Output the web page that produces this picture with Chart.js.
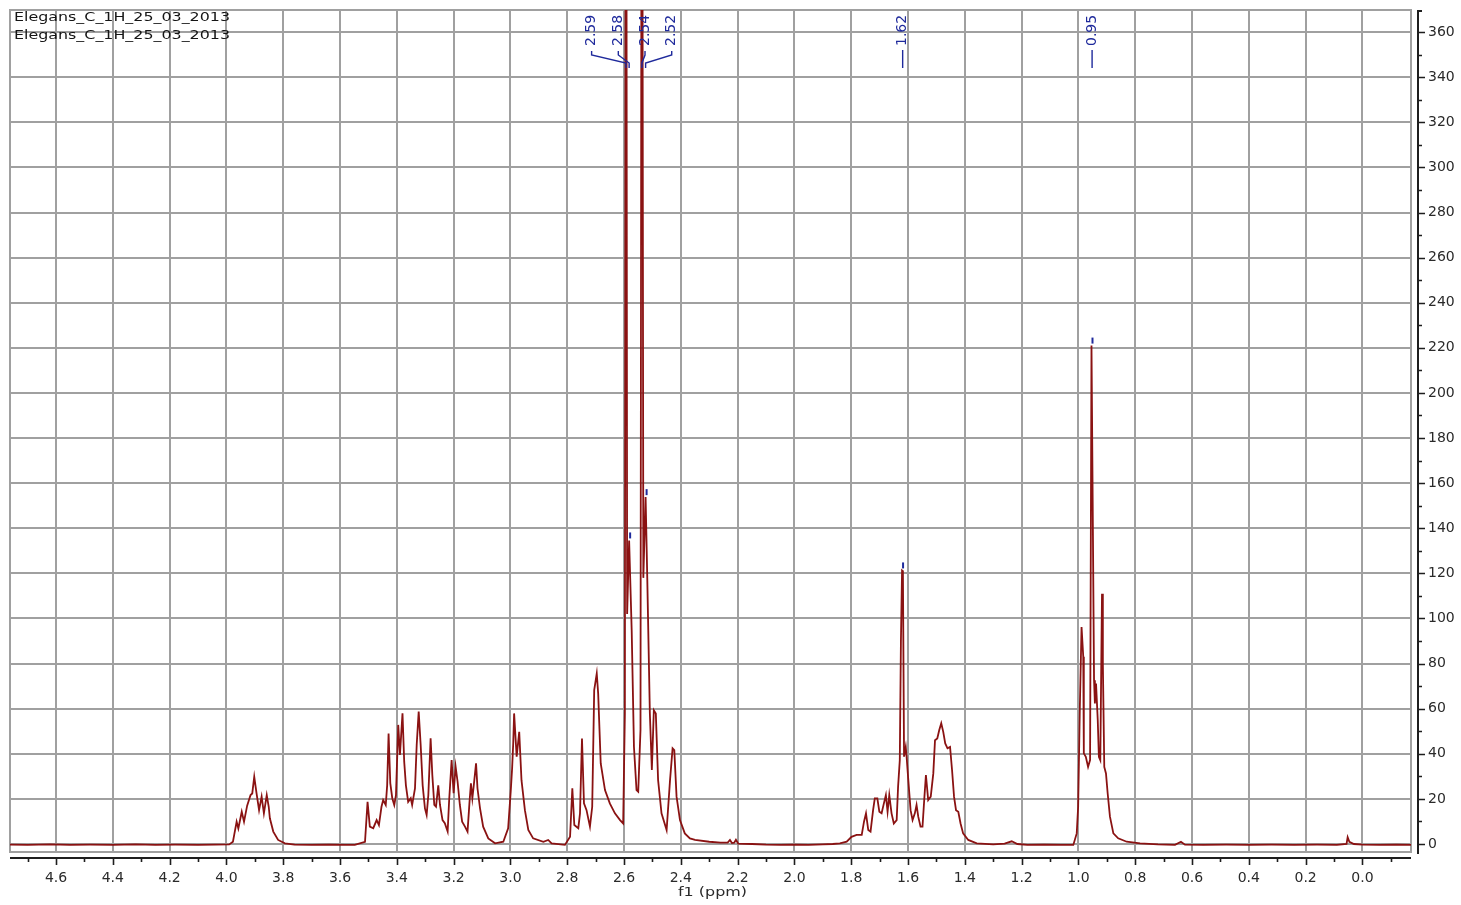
<!DOCTYPE html>
<html>
<head>
<meta charset="utf-8">
<script src="https://cdn.jsdelivr.net/npm/chart.js@4.4.1/dist/chart.umd.min.js"></script>
<style>
  html, body { margin: 0; padding: 0; background: #ffffff; }
  #wrap { position: relative; width: 1461px; height: 905px; }
  canvas { display: block; }
</style>
</head>
<body>
<div id="wrap"><canvas id="nmr" width="1461" height="905"></canvas></div>
<script>
// 1H NMR spectrum, chemical shift (ppm) against intensity
const spectrumName = 'Elegans_C_1H_25_03_2013';
const axisTitle = 'f1 (ppm)';

const shiftPpm = [
  4.762, 4.70, 4.62, 4.55, 4.48, 4.40, 4.32, 4.25, 4.18, 4.10, 4.04, 3.990,
  // 3.9 multiplet
  3.977, 3.964, 3.958, 3.946, 3.938, 3.927, 3.915, 3.909, 3.902, 3.894, 3.885, 3.876,
  3.868, 3.858, 3.851, 3.847, 3.835, 3.818, 3.794, 3.76, 3.70, 3.64, 3.58, 3.548,
  // 3.5 - 3.05 cluster
  3.512, 3.503, 3.495, 3.483, 3.471, 3.463, 3.454, 3.448, 3.439, 3.434, 3.429, 3.423,
  3.416, 3.409, 3.403, 3.395, 3.389, 3.380, 3.374, 3.368, 3.360, 3.351, 3.346, 3.336,
  3.330, 3.323, 3.316, 3.309, 3.301, 3.295, 3.289, 3.281, 3.275, 3.268, 3.262, 3.254,
  3.248, 3.239, 3.231, 3.221, 3.216, 3.207, 3.200, 3.193, 3.186, 3.178, 3.170, 3.160,
  3.151, 3.144, 3.139, 3.134, 3.129, 3.121, 3.116, 3.107, 3.096, 3.078, 3.054, 3.025,
  // 2.98 doublet
  3.008, 2.999, 2.994, 2.990, 2.987, 2.978, 2.969, 2.961, 2.949, 2.937, 2.920, 2.884,
  2.867, 2.855, 2.808,
  // 2.8 - 2.35
  2.790, 2.782, 2.775, 2.761, 2.755, 2.748, 2.741, 2.732, 2.720, 2.712, 2.705, 2.696,
  2.691, 2.682, 2.667, 2.650, 2.632, 2.614, 2.603, 2.597, 2.593, 2.589, 2.582, 2.573,
  2.565, 2.556, 2.550, 2.542, 2.537, 2.532, 2.524, 2.518, 2.509, 2.502, 2.495, 2.488,
  2.480, 2.468, 2.450, 2.438, 2.429, 2.423, 2.415, 2.403, 2.386, 2.368, 2.350,
  2.30, 2.26, 2.235, 2.227, 2.220, 2.212, 2.206, 2.198, 2.15, 2.10, 2.05, 2.00,
  1.95, 1.90, 1.865,
  // 1.8 - 1.4
  1.840, 1.816, 1.799, 1.781, 1.763, 1.755, 1.748, 1.740, 1.732, 1.723, 1.717, 1.708,
  1.701, 1.693, 1.685, 1.678, 1.672, 1.666, 1.658, 1.650, 1.640, 1.635, 1.629, 1.625,
  1.621, 1.618, 1.614, 1.608, 1.605, 1.599, 1.591, 1.584, 1.576, 1.570, 1.564, 1.556,
  1.549, 1.543, 1.537, 1.529, 1.520, 1.511, 1.505, 1.497, 1.490, 1.483, 1.476, 1.469,
  1.461, 1.452, 1.445, 1.438, 1.431, 1.423, 1.415, 1.406, 1.388, 1.358,
  1.30, 1.26, 1.235, 1.215, 1.18, 1.12, 1.06, 1.018,
  // 1.0 - 0.85
  1.006, 1.001, 0.995, 0.989, 0.983, 0.981, 0.974, 0.966, 0.959, 0.954, 0.945, 0.942,
  0.938, 0.932, 0.928, 0.923, 0.917, 0.914, 0.909, 0.903, 0.897, 0.889, 0.877, 0.860,
  0.830, 0.783,
  0.72, 0.66, 0.639, 0.625, 0.56, 0.48, 0.40, 0.32, 0.24, 0.16, 0.09, 0.056,
  0.052, 0.046, 0.030, 0.0, -0.06, -0.12, -0.171
];

const intensity = [
  -0.3, -0.4, -0.2, -0.4, -0.3, -0.4, -0.2, -0.4, -0.3, -0.4, -0.3, -0.2,
  1.0, 9.9, 6.9, 14.3, 9.9, 17.0, 21.7, 22.4, 29.8, 22.6, 15.0, 21.0,
  13.6, 21.7, 16.5, 11.4, 5.5, 1.8, 0.3, -0.3, -0.4, -0.3, -0.4, -0.4,
  1.0, 18.7, 7.7, 7.0, 10.6, 8.4, 16.5, 19.5, 17.3, 26.0, 49.0, 27.0,
  20.3, 17.3, 21.7, 52.8, 39.5, 58.0, 36.5, 26.0, 18.7, 20.3, 17.3, 24.7,
  43.9, 58.7, 43.9, 26.0, 15.8, 12.9, 21.7, 46.9, 30.6, 17.3, 16.5, 26.0,
  17.3, 10.6, 9.2, 5.5, 18.7, 37.2, 22.5, 34.3, 27.6, 17.3, 9.9, 7.7,
  5.5, 18.7, 26.9, 20.3, 26.0, 35.8, 24.7, 15.8, 7.7, 2.5, 0.3, 1.0,
  7.0, 23.2, 33.6, 45.0, 57.9, 38.7, 49.7, 28.3, 15.0, 6.2, 2.5, 1.0,
  1.8, 0.3, -0.4,
  3.2, 24.7, 8.4, 7.0, 13.6, 46.8, 18.0, 15.0, 7.7, 16.5, 68.2, 75.6,
  66.7, 35.7, 23.9, 18.0, 13.6, 10.6, 9.1, 57.9, 620, 102, 134.6, 94.8,
  43.0, 23.9, 23.2, 50.5, 590, 118, 153.8, 117, 57.9, 32.8, 59.3, 57.9,
  28.3, 13.6, 6.2, 28.3, 42.4, 41.6, 21.0, 10.6, 4.7, 2.5, 1.8,
  1.0, 0.6, 0.6, 1.8, 0.4, 0.6, 1.9, 0.2, 0.0, -0.3, -0.4, -0.3,
  -0.4, -0.2, 0.0,
  0.3, 1.0, 3.2, 4.0, 4.0, 9.9, 13.6, 6.2, 5.5, 15.0, 20.2, 20.2,
  14.3, 13.6, 18.0, 21.7, 14.3, 21.7, 13.6, 9.1, 10.6, 25.4, 37.2, 90,
  121.3, 121, 38.7, 43.0, 38.7, 28.3, 15.0, 10.6, 13.6, 17.3, 12.1, 7.7,
  7.7, 19.5, 30.6, 19.5, 21.0, 31.3, 46.0, 46.8, 50.5, 53.5, 49.7, 44.6,
  42.4, 43.0, 32.8, 21.0, 15.0, 14.3, 9.1, 4.7, 1.8, 0.3,
  -0.2, 0.2, 1.2, 0.0, -0.4, -0.3, -0.4, -0.4,
  4.7, 16.5, 60.8, 96.2, 83.0, 40.2, 38.7, 34.2, 37.2, 221, 72.6, 62.3,
  71.2, 55.0, 38.7, 37.2, 111, 80, 34.2, 31.3, 22.4, 12.1, 4.7, 2.5,
  1.0, 0.3,
  -0.2, -0.4, 1.0, -0.3, -0.4, -0.3, -0.4, -0.3, -0.4, -0.3, -0.4, 0.0,
  3.0, 1.0, 0.0, -0.3, -0.4, -0.3, -0.4
];

// picked peaks with their printed shifts
const peakPpm = [2.593, 2.582, 2.537, 2.524, 1.621, 0.954];
const peakGroup = [0, 0, 0, 0, 1, 2];

const xRange = [-0.171, 4.762];
const yRange = [-3.55, 369.8];
const xTickStep = 0.2;
const yTickStep = 20;

const points = shiftPpm.map((p, i) => ({ x: p, y: intensity[i] }));

const GRID = 'rgb(160,160,160)';
const AXIS = '#1e1e1e';
const TEXT = '#2a2a2a';
const PEAK_BLUE = '#1f2a9c';
const FONT = 'DejaVu Sans';

function stretchedText(ctx, text, x, y, width, font, color, align) {
  ctx.save();
  ctx.font = font;
  ctx.fillStyle = color;
  ctx.textBaseline = 'middle';
  ctx.textAlign = 'left';
  const w = ctx.measureText(text).width;
  const k = width / w;
  const left = align === 'center' ? x - width / 2 : x;
  ctx.translate(left, y);
  ctx.scale(k, 1);
  ctx.fillText(text, 0, 0);
  ctx.restore();
}

// the plot box is set by layout padding and fixed axis sizes only
function fixBox(size) {
  return function (s) {
    if (s.isHorizontal()) s.height = size; else s.width = size;
    s.paddingTop = 0; s.paddingBottom = 0; s.paddingLeft = 0; s.paddingRight = 0;
  };
}

const decorations = {
  id: 'decorations',
  beforeDatasetsDraw(chart) {
    const { ctx, chartArea: a } = chart;
    ctx.save();
    ctx.strokeStyle = GRID;
    ctx.lineWidth = 2;
    ctx.strokeRect(a.left, a.top, a.right - a.left, a.bottom - a.top);
    ctx.restore();
  },
  afterDraw(chart) {
    const { ctx, chartArea: a } = chart;
    const xs = chart.scales.x, ys = chart.scales.y;
    ctx.save();

    // black axis lines with major / minor tick marks
    const axisY = a.bottom + 6;
    const axisX = a.right + 7;
    ctx.strokeStyle = AXIS;
    ctx.lineWidth = 2;
    ctx.beginPath();
    ctx.moveTo(a.left, axisY); ctx.lineTo(a.right, axisY);
    ctx.moveTo(axisX, a.top); ctx.lineTo(axisX, a.bottom + 2);
    ctx.moveTo(axisX, a.top + 1); ctx.lineTo(axisX + 4, a.top + 1);
    ctx.stroke();

    ctx.lineWidth = 1.6;
    ctx.beginPath();
    const k0 = Math.ceil(xs.min * 10 + 1e-9), k1 = Math.floor(xs.max * 10 - 1e-9);
    for (let k = k0; k <= k1; k++) {
      const px = Math.round(xs.getPixelForValue(k / 10)) + 0.5;
      const len = (k % 2 === 0) ? 7 : 4;
      ctx.moveTo(px, axisY); ctx.lineTo(px, axisY + len);
    }
    const m0 = Math.ceil(ys.min / 10), m1 = Math.floor(ys.max / 10);
    for (let m = m0; m <= m1; m++) {
      const py = Math.round(ys.getPixelForValue(m * 10)) + 0.5;
      const len = (m % 2 === 0) ? 7 : 4;
      ctx.moveTo(axisX, py); ctx.lineTo(axisX + len, py);
    }
    ctx.stroke();

    // axis title
    stretchedText(ctx, axisTitle, (a.left + a.right) / 2 + 2, 893, 69,
      '13px "' + FONT + '"', TEXT, 'center');

    // spectrum names
    stretchedText(ctx, spectrumName, 14, 17.5, 216, '12.5px "' + FONT + '"', '#151515', 'left');
    stretchedText(ctx, spectrumName, 14, 35.5, 216, '12.5px "' + FONT + '"', '#151515', 'left');

    // peak labels
    const peakPx = peakPpm.map(p => xs.getPixelForValue(p));
    const labelX = peakPx.slice();
    const groups = {};
    peakGroup.forEach((g, i) => { (groups[g] = groups[g] || []).push(i); });
    Object.values(groups).forEach(idx => {
      if (idx.length < 2) { labelX[idx[0]] = peakPx[idx[0]] + 0.6; return; }
      const c = idx.reduce((s, i) => s + peakPx[i], 0) / idx.length - 4;
      idx.forEach((i, j) => { labelX[i] = c + (j - (idx.length - 1) / 2) * 26.7; });
    });

    ctx.font = '14px "' + FONT + '"';
    ctx.fillStyle = PEAK_BLUE;
    ctx.strokeStyle = PEAK_BLUE;
    ctx.lineWidth = 1.4;
    peakPpm.forEach((p, i) => {
      const lx = labelX[i];
      ctx.save();
      ctx.translate(lx, 46);
      ctx.rotate(-Math.PI / 2);
      ctx.textAlign = 'left';
      ctx.textBaseline = 'middle';
      ctx.fillText(p.toFixed(2), 0, 0);
      ctx.restore();

      ctx.beginPath();
      if (Math.abs(lx - peakPx[i]) < 2) {
        ctx.moveTo(lx, 50); ctx.lineTo(lx, 68);
      } else {
        ctx.moveTo(lx, 51); ctx.lineTo(lx, 55);
        ctx.lineTo(peakPx[i], 63); ctx.lineTo(peakPx[i], 68);
      }
      ctx.stroke();

      // marker above the peak top when the top is on scale
      const v = intensity[shiftPpm.indexOf(p)];
      if (v !== undefined && v < ys.max) {
        const py = ys.getPixelForValue(v);
        ctx.save();
        ctx.lineWidth = 2;
        ctx.beginPath();
        ctx.moveTo(peakPx[i] + 1, py - 8); ctx.lineTo(peakPx[i] + 1, py - 2);
        ctx.stroke();
        ctx.restore();
      }
    });

    ctx.restore();
  }
};

new Chart(document.getElementById('nmr'), {
  type: 'scatter',
  data: {
    datasets: [{
      data: points,
      showLine: true,
      borderColor: '#8a1212',
      backgroundColor: '#8a1212',
      borderWidth: 1.8,
      pointRadius: 0,
      pointHoverRadius: 0,
      tension: 0,
      fill: false,
      clip: 0
    }]
  },
  options: {
    responsive: false,
    animation: false,
    events: [],
    layout: { padding: { left: 10, top: 10, right: 0, bottom: 0 } },
    plugins: { legend: { display: false }, tooltip: { enabled: false }, title: { display: false } },
    scales: {
      x: {
        type: 'linear',
        reverse: true,
        position: 'bottom',
        min: xRange[0],
        max: xRange[1],
        afterFit: fixBox(53),
        border: { display: false },
        grid: { display: true, drawOnChartArea: true, color: GRID, lineWidth: 2, drawTicks: false },
        ticks: {
          stepSize: xTickStep,
          includeBounds: false,
          autoSkip: false,
          maxRotation: 0,
          padding: 18,
          color: TEXT,
          font: { family: FONT, size: 14 },
          callback: v => Number(v).toFixed(1)
        }
      },
      y: {
        type: 'linear',
        position: 'right',
        min: yRange[0],
        max: yRange[1],
        afterFit: fixBox(50),
        border: { display: false },
        grid: { display: true, drawOnChartArea: true, color: GRID, lineWidth: 2, drawTicks: false },
        ticks: {
          stepSize: yTickStep,
          includeBounds: false,
          autoSkip: false,
          padding: 17,
          color: TEXT,
          font: { family: FONT, size: 14 },
          callback: v => String(Math.round(v))
        }
      }
    }
  },
  plugins: [decorations]
});
</script>
</body>
</html>
